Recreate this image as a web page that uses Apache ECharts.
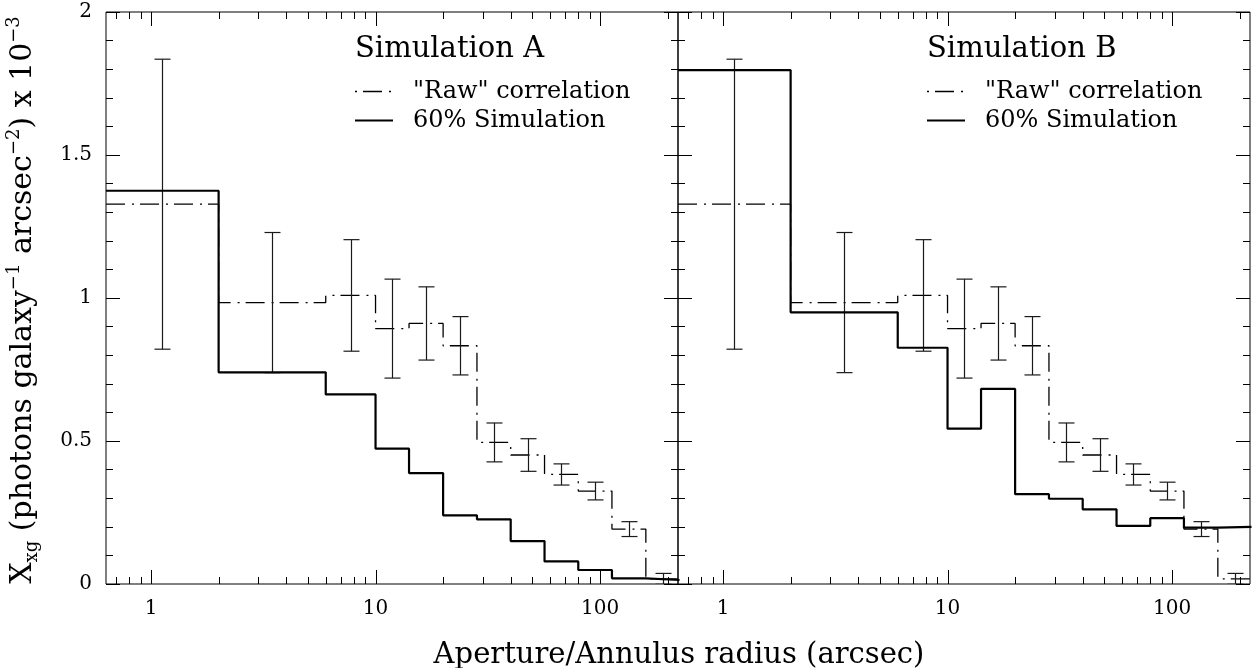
<!DOCTYPE html>
<html>
<head>
<meta charset="utf-8">
<script src="https://cdn.jsdelivr.net/npm/echarts@6/dist/echarts.min.js"></script>
<style>
html,body{margin:0;padding:0;background:#fff;}
#chart{width:1253px;height:668px;}
</style>
</head>
<body>
<div id="chart"></div>
<script>
// ---------------- data ----------------
const binEdges = [0.63, 2, 6, 10, 14.1, 20, 28.3, 40, 56.6, 80, 113, 160, 226];
const binCentres = [1.12, 3.46, 7.75, 11.9, 16.8, 23.8, 33.6, 47.6, 67.3, 95.1, 134.5, 190];
const rawCorrelation = [1.328, 0.984, 1.009, 0.893, 0.911, 0.833, 0.495, 0.451, 0.383, 0.325, 0.192, 0.018];
const rawError = [0.507, 0.245, 0.195, 0.173, 0.128, 0.102, 0.068, 0.057, 0.037, 0.031, 0.026, 0.019];
const simulationA = [1.375, 0.740, 0.663, 0.473, 0.388, 0.240, 0.226, 0.150, 0.079, 0.049, 0.020, 0.014];
const simulationB = [1.797, 0.950, 0.826, 0.543, 0.682, 0.314, 0.298, 0.261, 0.203, 0.230, 0.197, 0.200];
const xMajorTicks = [1, 10, 100];
const xMinorTicks = [0.7, 0.8, 0.9, 2, 3, 4, 5, 6, 7, 8, 9, 20, 30, 40, 50, 60, 70, 80, 90, 200];
const panelTitles = ['Simulation A', 'Simulation B'];
const seriesNames = ['"Raw" correlation', '60% Simulation'];
const xAxisTitle = 'Aperture/Annulus radius (arcsec)';

// ---------------- helpers ----------------
const FONT = "'DejaVu Serif', 'Liberation Serif', serif";
const RAW_DASH = [19, 7, 2, 6];
function stepPoints(vals) {
  const pts = vals.map((v, i) => [binEdges[i], v]);
  pts.push([binEdges[vals.length], vals[vals.length - 1]]);
  return pts;
}
const tickData = xMajorTicks.map(v => [v, 1]).concat(xMinorTicks.map(v => [v, 0]));
const errData = binCentres.map((x, i) => [x, rawCorrelation[i], rawError[i]]);

function tickRender(params, api) {
  const v = api.value(0), major = api.value(1);
  const len = major ? 14 : 7;
  const b = api.coord([v, 0]), t = api.coord([v, 2]);
  const x = Math.round(b[0]) + 0.5;
  const st = {stroke: '#000', lineWidth: 1};
  return {type: 'group', children: [
    {type: 'line', shape: {x1: x, y1: b[1], x2: x, y2: b[1] - len}, style: st},
    {type: 'line', shape: {x1: x, y1: t[1], x2: x, y2: t[1] + len}, style: st}
  ]};
}
function errRender(params, api) {
  const x = api.value(0), y = api.value(1), e = api.value(2);
  const top = api.coord([x, y + e]), bot = api.coord([x, y - e]);
  const cx = Math.round(top[0]) + 0.5, cap = 8;
  const st = {stroke: '#1a1a1a', lineWidth: 1.2};
  return {type: 'group', children: [
    {type: 'line', shape: {x1: cx, y1: top[1], x2: cx, y2: bot[1]}, style: st},
    {type: 'line', shape: {x1: cx - cap, y1: top[1], x2: cx + cap, y2: top[1]}, style: st},
    {type: 'line', shape: {x1: cx - cap, y1: bot[1], x2: cx + cap, y2: bot[1]}, style: st}
  ]};
}
function logLabel(v) {
  const l = Math.log10(v);
  return Math.abs(l - Math.round(l)) < 1e-6 ? String(Math.round(v)) : '';
}

const grids = [
  {left: 106, top: 12, width: 572, height: 572},
  {left: 678, top: 12, width: 573, height: 572}
];
const xAxes = [], yAxes = [], series = [], titles = [], graphics = [];
grids.forEach((g, gi) => {
  g.show = true; g.borderColor = '#000'; g.borderWidth = 1; g.backgroundColor = 'transparent';
  xAxes.push({
    type: 'log', logBase: 10, gridIndex: gi, min: 0.63, max: 222.5,
    axisLine: {show: false}, axisTick: {show: false}, splitLine: {show: false}, minorTick: {show: false},
    axisLabel: {show: true, interval: 0, formatter: logLabel, margin: 15,
      fontFamily: FONT, fontSize: 20, color: '#000'}
  });
  ['left', 'right'].forEach(pos => {
    yAxes.push({
      type: 'value', gridIndex: gi, position: pos, min: 0, max: 2, interval: 0.5,
      axisLine: {show: false}, splitLine: {show: false},
      axisTick: {show: true, inside: true, length: 14, lineStyle: {color: '#000', width: 1}},
      minorTick: {show: true, splitNumber: 5, length: 7, lineStyle: {color: '#000', width: 1}},
      axisLabel: {show: gi === 0 && pos === 'left', margin: 14, fontFamily: FONT, fontSize: 20, color: '#000'}
    });
  });
  const yi = gi * 2;
  series.push({
    type: 'custom', name: 'ticks' + gi, xAxisIndex: gi, yAxisIndex: yi, data: tickData,
    renderItem: tickRender, encode: {x: 0, y: 1}, silent: true, clip: false, z: 5
  });
  series.push({
    type: 'line', name: seriesNames[0], xAxisIndex: gi, yAxisIndex: yi,
    data: stepPoints(rawCorrelation), step: 'end', symbol: 'none', clip: true,
    lineStyle: {color: '#000', width: 1.3, type: RAW_DASH}, itemStyle: {color: '#000'}, z: 3
  });
  series.push({
    type: 'line', name: seriesNames[1], xAxisIndex: gi, yAxisIndex: yi,
    data: stepPoints(gi === 0 ? simulationA : simulationB), step: 'end', symbol: 'none', clip: true,
    lineStyle: {color: '#000', width: 2.2, type: 'solid'}, itemStyle: {color: '#000'}, z: 4
  });
  series.push({
    type: 'custom', name: 'err' + gi, xAxisIndex: gi, yAxisIndex: yi, data: errData,
    renderItem: errRender, encode: {x: 0, y: 1}, clip: true, z: 4
  });
  const lx = g.left + 249;
  titles.push({
    text: panelTitles[gi], left: lx, top: 35, padding: 0,
    textStyle: {fontFamily: FONT, fontSize: 29, fontWeight: 'normal', color: '#000'}
  });
  // legend key drawn with graphic elements
  graphics.push({type: 'line', shape: {x1: lx, y1: 91.5, x2: lx + 38, y2: 91.5},
    style: {stroke: '#000', lineWidth: 1.3, lineDash: RAW_DASH, lineDashOffset: 26}});
  graphics.push({type: 'line', shape: {x1: lx, y1: 120.5, x2: lx + 38, y2: 120.5},
    style: {stroke: '#000', lineWidth: 2.2}});
  graphics.push({type: 'text', x: lx + 58, y: 92,
    style: {text: seriesNames[0], font: "24px 'DejaVu Serif', serif", fill: '#000',
      align: 'left', verticalAlign: 'middle', textAlign: 'left', textVerticalAlign: 'middle'}});
  graphics.push({type: 'text', x: lx + 58, y: 121,
    style: {text: seriesNames[1], font: "24px 'DejaVu Serif', serif", fill: '#000',
      align: 'left', verticalAlign: 'middle', textAlign: 'left', textVerticalAlign: 'middle'}});
});

graphics.push({
  type: 'text', x: 679, y: 655,
  style: {text: xAxisTitle, font: "29px 'DejaVu Serif', serif", fill: '#000',
    align: 'center', verticalAlign: 'middle', textAlign: 'center', textVerticalAlign: 'middle'}
});
graphics.push({
  type: 'text', x: 23, y: 300, rotation: Math.PI / 2,
  style: {
    text: '{m|X}{sub|xg}{m| (photons galaxy}{sup|−1}{m| arcsec}{sup|−2}{m|) x 10}{sup|−3}',
    align: 'center', verticalAlign: 'middle', textAlign: 'center', textVerticalAlign: 'middle',
    fill: '#000',
    rich: {
      m: {fontFamily: FONT, fontSize: 30, lineHeight: 36, fill: '#000', color: '#000'},
      sub: {fontFamily: FONT, fontSize: 18, lineHeight: 20, verticalAlign: 'bottom', fill: '#000', color: '#000'},
      sup: {fontFamily: FONT, fontSize: 18, lineHeight: 22, verticalAlign: 'top', fill: '#000', color: '#000'}
    }
  }
});

const option = {
  animation: false,
  backgroundColor: '#fff',
  grid: grids,
  xAxis: xAxes,
  yAxis: yAxes,
  title: titles,
  series: series,
  graphic: graphics
};
const chart = echarts.init(document.getElementById('chart'), null, {renderer: 'canvas'});
chart.setOption(option);
</script>
</body>
</html>
